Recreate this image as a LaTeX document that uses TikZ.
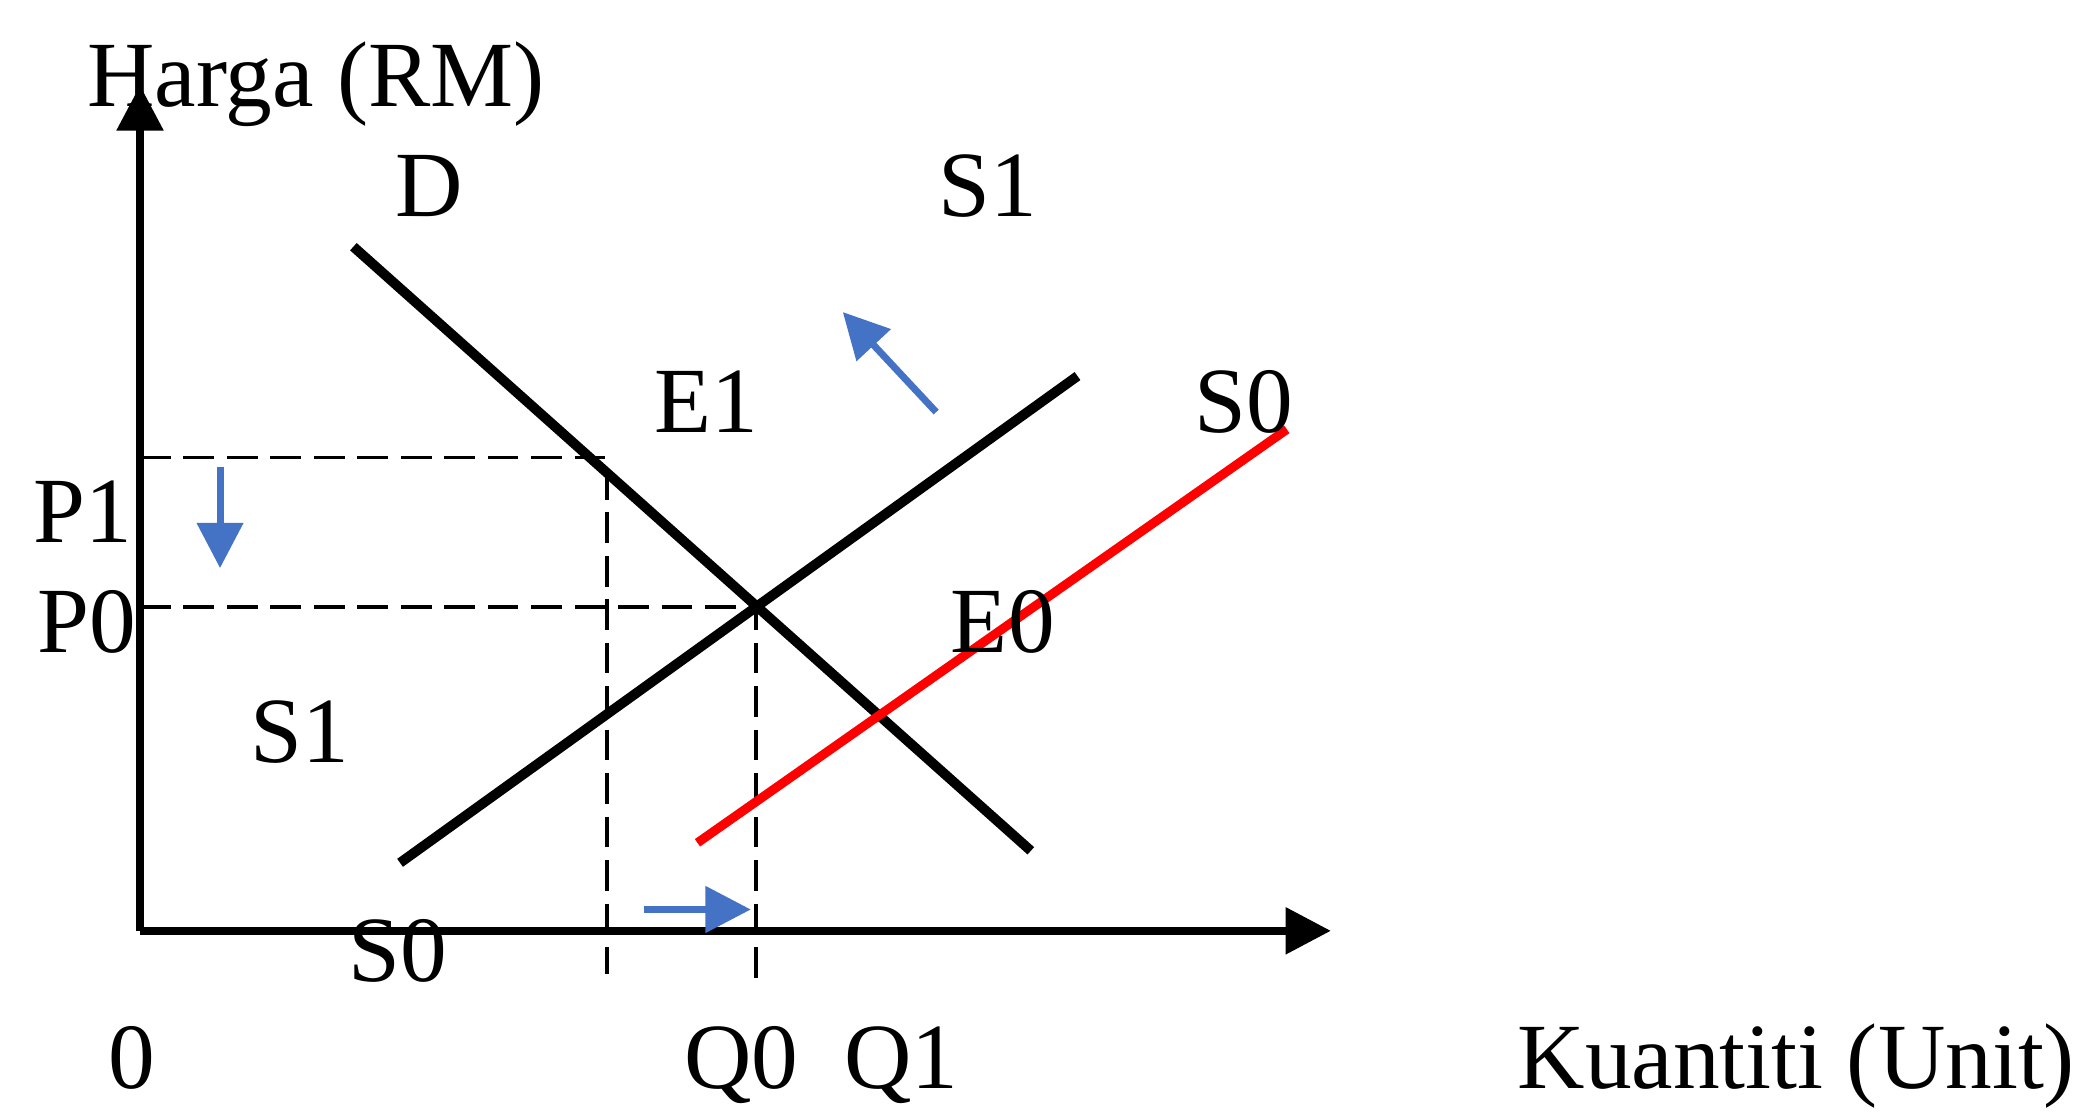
\documentclass[tikz,border=0pt]{standalone}
\usepackage{fontspec}
\setmainfont{Liberation Serif}
\usetikzlibrary{arrows.meta}
\definecolor{arrowblue}{HTML}{4472C4}
\begin{document}
\begin{tikzpicture}[x=0.5pt,y=-0.5pt,
  lbl/.style={anchor=base,inner sep=0pt,font=\fontsize{35pt}{40pt}\selectfont},
  axisline/.style={line width=3pt,-{Triangle[length=17pt,width=17pt]}},
  curveline/.style={line width=3.7pt},
  guideline/.style={line width=1.4pt,dash pattern=on 11.5pt off 4.8pt},
  shiftarrow/.style={arrowblue,line width=2.6pt,-{Triangle[length=17pt,width=17pt]}}]
\useasboundingbox[fill=white] (0,0) rectangle (1568,835);
% coordinates
\coordinate (O) at (105,698);
\coordinate (Ytop) at (105,64);
\coordinate (Xend) at (998,698);
\coordinate (Da) at (265,185);
\coordinate (Db) at (773,638);
\coordinate (S1a) at (300,647);
\coordinate (S1b) at (808,282);
\coordinate (S0a) at (523,632);
\coordinate (S0b) at (965,322);
\coordinate (P1l) at (105,343);
\coordinate (P1r) at (455,343);
\coordinate (P1d) at (455,730);
\coordinate (P0l) at (105,455);
\coordinate (P0r) at (567,455);
\coordinate (P0d) at (567,740);
\coordinate (BAs) at (165,350);
\coordinate (BAe) at (165,426);
\coordinate (BBs) at (483,682);
\coordinate (BBe) at (563,682);
\coordinate (BCs) at (702,309);
\coordinate (BCe) at (632,234);
% guides
\draw[guideline] (P1l) -- (P1r) -- (P1d);
\draw[guideline] (P0l) -- (P0r) -- (P0d);
% axes
\draw[axisline] (O) -- (Ytop);
\draw[axisline] (O) -- (Xend);
% curves
\draw[curveline] (Da) -- (Db);
\draw[curveline] (S1a) -- (S1b);
\draw[curveline,red,line width=3.4pt] (S0a) -- (S0b);
% shift arrows
\draw[shiftarrow] (BAs) -- (BAe);
\draw[shiftarrow] (BBs) -- (BBe);
\draw[shiftarrow] (BCs) -- (BCe);
% labels
\node[lbl] (harga) at (237,80) {Harga (RM)};
\node[lbl] (dlab) at (322,162) {D};
\node[lbl] (s1top) at (741,162) {S1};
\node[lbl] (e1) at (530,324) {E1};
\node[lbl] (s0top) at (933,324) {S0};
\node[lbl] (p1) at (62,407) {P1};
\node[lbl] (p0) at (65,489) {P0};
\node[lbl] (e0) at (752,489) {E0};
\node[lbl] (s1left) at (225,572) {S1};
\node[lbl] (s0bot) at (298,736) {S0};
\node[lbl] (zero) at (99,816) {0};
\node[lbl] (q0) at (556,816) {Q0};
\node[lbl] (q1) at (676,816) {Q1};
\node[lbl] (kuan) at (1347,816) {Kuantiti (Unit)};
\end{tikzpicture}
\end{document}
